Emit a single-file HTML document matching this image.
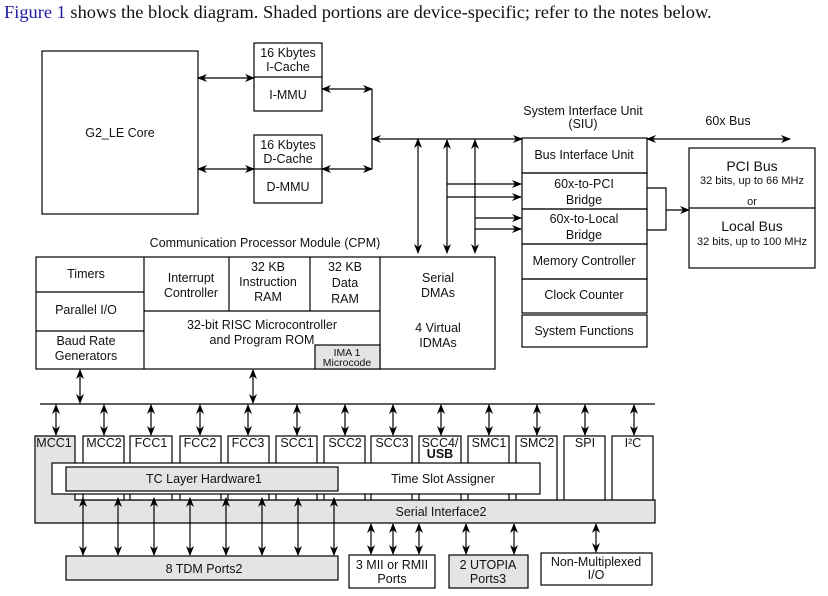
<!DOCTYPE html><html><head><style>body{margin:0;background:#fff}svg{display:block}text{font-family:"Liberation Sans",Arial,sans-serif;font-size:12.5px;fill:#111}</style></head><body>
<svg width="828" height="596" viewBox="0 0 828 596" xmlns="http://www.w3.org/2000/svg">
<defs><marker id="a" markerWidth="10" markerHeight="8" refX="9" refY="4" orient="auto-start-reverse" markerUnits="userSpaceOnUse"><path d="M0,0 L10,4 L0,8 L3,4z" fill="#000"/></marker></defs>
<text x="4" y="18" style="font-family:'Liberation Serif',serif;font-size:18.4px"><tspan fill="#1a1aa0">Figure 1</tspan> shows the block diagram. Shaded portions are device-specific; refer to the notes below.</text>
<g stroke="#000" stroke-width="1.2" fill="none">
<rect x="42" y="51" width="156" height="163"/>
<rect x="254" y="43" width="68" height="68"/><line x1="254" y1="77" x2="322" y2="77"/>
<rect x="254" y="135" width="68" height="68"/><line x1="254" y1="169" x2="322" y2="169"/>
<line x1="198" y1="78" x2="254" y2="78" marker-start="url(#a)" marker-end="url(#a)"/>
<line x1="198" y1="169" x2="254" y2="169" marker-start="url(#a)" marker-end="url(#a)"/>
<line x1="322" y1="89" x2="372" y2="89" marker-start="url(#a)" marker-end="url(#a)"/>
<line x1="322" y1="169" x2="372" y2="169" marker-start="url(#a)" marker-end="url(#a)"/>
<line x1="372" y1="89" x2="372" y2="169"/>
<line x1="372" y1="139" x2="522" y2="139" marker-start="url(#a)" marker-end="url(#a)"/>
<line x1="418" y1="139" x2="418" y2="253" marker-start="url(#a)" marker-end="url(#a)"/>
<line x1="447" y1="140" x2="447" y2="253" marker-start="url(#a)" marker-end="url(#a)"/>
<line x1="475" y1="140" x2="475" y2="253" marker-start="url(#a)" marker-end="url(#a)"/>
<line x1="447" y1="184" x2="521" y2="184" marker-end="url(#a)"/>
<line x1="447" y1="197" x2="521" y2="197" marker-end="url(#a)"/>
<line x1="475" y1="218" x2="521" y2="218" marker-end="url(#a)"/>
<line x1="475" y1="229" x2="521" y2="229" marker-end="url(#a)"/>
<rect x="522" y="138" width="125" height="35"/><rect x="522" y="173" width="125" height="36"/><rect x="522" y="209" width="125" height="35"/><rect x="522" y="244" width="125" height="35"/><rect x="522" y="279" width="125" height="34"/><rect x="522" y="315" width="125" height="32"/>
<line x1="647" y1="139" x2="790" y2="139" marker-start="url(#a)" marker-end="url(#a)"/>
<polyline points="647,188 666,188 666,230 647,230"/>
<line x1="666" y1="210" x2="689" y2="210" marker-end="url(#a)"/>
<rect x="689" y="148" width="126" height="120"/><line x1="689" y1="208" x2="815" y2="208"/>
<rect x="36" y="257" width="459" height="112"/>
<line x1="144" y1="257" x2="144" y2="369"/><line x1="380" y1="257" x2="380" y2="369"/>
<line x1="36" y1="292" x2="144" y2="292"/><line x1="36" y1="331" x2="144" y2="331"/>
<line x1="144" y1="311" x2="380" y2="311"/><line x1="229" y1="257" x2="229" y2="311"/><line x1="310" y1="257" x2="310" y2="311"/>
<rect x="315" y="345" width="65" height="24" fill="#e4e4e4"/>
<line x1="80" y1="370" x2="80" y2="403" marker-start="url(#a)" marker-end="url(#a)"/>
<line x1="253" y1="370" x2="253" y2="403" marker-start="url(#a)" marker-end="url(#a)"/>
<line x1="40" y1="404" x2="655" y2="404"/>
<path d="M35,436 H75 V500 H655 V523 H35z" fill="#e4e4e4"/>
<rect x="83" y="436" width="41" height="64" fill="#fff"/><rect x="130" y="436" width="42" height="64" fill="#fff"/><rect x="180" y="436" width="41" height="64" fill="#fff"/><rect x="228" y="436" width="41" height="64" fill="#fff"/><rect x="276" y="436" width="41" height="64" fill="#fff"/><rect x="324" y="436" width="41" height="64" fill="#fff"/><rect x="371" y="436" width="41" height="64" fill="#fff"/><rect x="419" y="436" width="42" height="64" fill="#fff"/><rect x="468" y="436" width="41" height="64" fill="#fff"/><rect x="516" y="436" width="41" height="64" fill="#fff"/><rect x="564" y="436" width="41" height="64" fill="#fff"/><rect x="612" y="436" width="41" height="64" fill="#fff"/>
<rect x="52" y="463" width="488" height="31" fill="#fff"/>
<rect x="66" y="467" width="272" height="24" fill="#e4e4e4"/>
<line x1="56" y1="405" x2="56" y2="435" marker-start="url(#a)" marker-end="url(#a)"/>
<line x1="104" y1="405" x2="104" y2="435" marker-start="url(#a)" marker-end="url(#a)"/>
<line x1="151" y1="405" x2="151" y2="435" marker-start="url(#a)" marker-end="url(#a)"/>
<line x1="200" y1="405" x2="200" y2="435" marker-start="url(#a)" marker-end="url(#a)"/>
<line x1="248" y1="405" x2="248" y2="435" marker-start="url(#a)" marker-end="url(#a)"/>
<line x1="297" y1="405" x2="297" y2="435" marker-start="url(#a)" marker-end="url(#a)"/>
<line x1="345" y1="405" x2="345" y2="435" marker-start="url(#a)" marker-end="url(#a)"/>
<line x1="393" y1="405" x2="393" y2="435" marker-start="url(#a)" marker-end="url(#a)"/>
<line x1="441" y1="405" x2="441" y2="435" marker-start="url(#a)" marker-end="url(#a)"/>
<line x1="489" y1="405" x2="489" y2="435" marker-start="url(#a)" marker-end="url(#a)"/>
<line x1="537" y1="405" x2="537" y2="435" marker-start="url(#a)" marker-end="url(#a)"/>
<line x1="585" y1="405" x2="585" y2="435" marker-start="url(#a)" marker-end="url(#a)"/>
<line x1="634" y1="405" x2="634" y2="435" marker-start="url(#a)" marker-end="url(#a)"/>
<line x1="83" y1="498" x2="83" y2="555" marker-start="url(#a)" marker-end="url(#a)"/>
<line x1="118" y1="498" x2="118" y2="555" marker-start="url(#a)" marker-end="url(#a)"/>
<line x1="154" y1="498" x2="154" y2="555" marker-start="url(#a)" marker-end="url(#a)"/>
<line x1="190" y1="498" x2="190" y2="555" marker-start="url(#a)" marker-end="url(#a)"/>
<line x1="226" y1="498" x2="226" y2="555" marker-start="url(#a)" marker-end="url(#a)"/>
<line x1="262" y1="498" x2="262" y2="555" marker-start="url(#a)" marker-end="url(#a)"/>
<line x1="298" y1="498" x2="298" y2="555" marker-start="url(#a)" marker-end="url(#a)"/>
<line x1="334" y1="498" x2="334" y2="555" marker-start="url(#a)" marker-end="url(#a)"/>
<line x1="371" y1="524" x2="371" y2="554" marker-start="url(#a)" marker-end="url(#a)"/>
<line x1="393" y1="524" x2="393" y2="554" marker-start="url(#a)" marker-end="url(#a)"/>
<line x1="419" y1="524" x2="419" y2="554" marker-start="url(#a)" marker-end="url(#a)"/>
<line x1="466" y1="524" x2="466" y2="554" marker-start="url(#a)" marker-end="url(#a)"/>
<line x1="514" y1="524" x2="514" y2="554" marker-start="url(#a)" marker-end="url(#a)"/>
<line x1="596" y1="524" x2="596" y2="552" marker-start="url(#a)" marker-end="url(#a)"/>
<rect x="66" y="556" width="272" height="24" fill="#e4e4e4"/>
<rect x="349" y="555" width="86" height="33"/>
<rect x="449" y="555" width="79" height="33" fill="#e4e4e4"/>
<rect x="541" y="553" width="111" height="32"/>
</g>
<g text-anchor="middle">
<text x="120" y="137">G2_LE Core</text>
<text x="288" y="57">16 Kbytes</text><text x="288" y="71">I-Cache</text><text x="288" y="99">I-MMU</text>
<text x="288" y="149">16 Kbytes</text><text x="288" y="163">D-Cache</text><text x="288" y="191">D-MMU</text>
<text x="583" y="115">System Interface Unit</text><text x="583" y="128">(SIU)</text>
<text x="728" y="125">60x Bus</text>
<text x="584" y="159">Bus Interface Unit</text>
<text x="584" y="188">60x-to-PCI</text><text x="584" y="204">Bridge</text>
<text x="584" y="223">60x-to-Local</text><text x="584" y="239">Bridge</text>
<text x="584" y="265">Memory Controller</text><text x="584" y="299">Clock Counter</text><text x="584" y="335">System Functions</text>
<text x="752" y="171" style="font-size:14px">PCI Bus</text><text x="752" y="184" style="font-size:11px">32 bits, up to 66 MHz</text><text x="752" y="205" style="font-size:11px">or</text>
<text x="752" y="231" style="font-size:14px">Local Bus</text><text x="752" y="245" style="font-size:11px">32 bits, up to 100 MHz</text>
<text x="265" y="247">Communication Processor Module (CPM)</text>
<text x="86" y="278">Timers</text><text x="86" y="314">Parallel I/O</text><text x="86" y="345">Baud Rate</text><text x="86" y="360">Generators</text>
<text x="191" y="282">Interrupt</text><text x="191" y="297">Controller</text>
<text x="268" y="271">32 KB</text><text x="268" y="286">Instruction</text><text x="268" y="301">RAM</text>
<text x="345" y="271">32 KB</text><text x="345" y="287">Data</text><text x="345" y="303">RAM</text>
<text x="262" y="329">32-bit RISC Microcontroller</text><text x="262" y="344">and Program ROM</text>
<text x="347" y="356" style="font-size:10.5px">IMA 1</text><text x="347" y="366" style="font-size:10.5px">Microcode</text>
<text x="438" y="282">Serial</text><text x="438" y="297">DMAs</text><text x="438" y="332">4 Virtual</text><text x="438" y="347">IDMAs</text>
<g style="font-size:12px"><text x="54" y="447">MCC1</text><text x="104" y="447">MCC2</text><text x="151" y="447">FCC1</text><text x="200" y="447">FCC2</text><text x="248" y="447">FCC3</text><text x="297" y="447">SCC1</text><text x="345" y="447">SCC2</text><text x="392" y="447">SCC3</text><text x="440" y="447">SCC4/</text><text x="440" y="458" font-weight="bold">USB</text><text x="489" y="447">SMC1</text><text x="537" y="447">SMC2</text><text x="585" y="447">SPI</text><text x="633" y="447">I²C</text></g>
<text x="204" y="483">TC Layer Hardware1</text><text x="443" y="483">Time Slot Assigner</text>
<text x="441" y="516">Serial Interface2</text>
<text x="204" y="573">8 TDM Ports2</text>
<text x="392" y="569">3 MII or RMII</text><text x="392" y="583">Ports</text>
<text x="488" y="569">2 UTOPIA</text><text x="488" y="583">Ports3</text>
<text x="596" y="566">Non-Multiplexed</text><text x="596" y="579">I/O</text>
</g>
</svg></body></html>
